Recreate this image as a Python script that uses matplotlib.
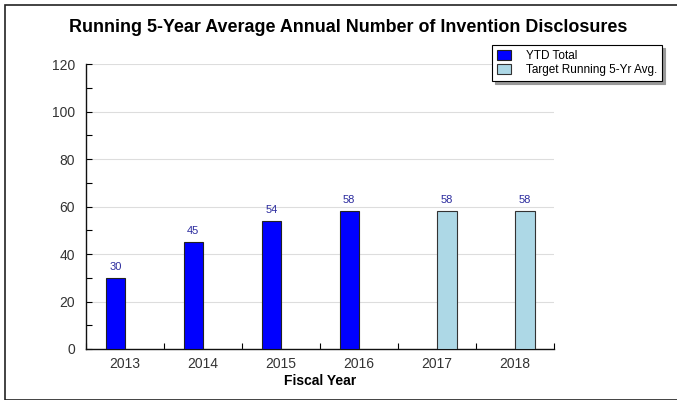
import numpy as np
import matplotlib
matplotlib.use("Agg")
import matplotlib.pyplot as plt
from matplotlib.patches import Rectangle
from matplotlib.ticker import MultipleLocator

plt.rcParams['font.family'] = ['Liberation Sans', 'DejaVu Sans']

years = ['2013', '2014', '2015', '2016', '2017', '2018']
ytd_total = [30, 45, 54, 58, None, None]
target_avg = [None, None, None, None, 58, 58]

fig = plt.figure(figsize=(6.77, 4.0), dpi=100)
ax = fig.add_axes([86 / 677, 1 - 349 / 400, (554 - 86) / 677, (349 - 64) / 400])

x = np.arange(len(years))
w = 0.25
lab_color = '#2b2b9e'

ytd_x = [xi - w / 2 for xi, v in zip(x, ytd_total) if v is not None]
ytd_v = [v for v in ytd_total if v is not None]
tgt_x = [xi + w / 2 for xi, v in zip(x, target_avg) if v is not None]
tgt_v = [v for v in target_avg if v is not None]

b1 = ax.bar(ytd_x, ytd_v, w, color='#0000ff', edgecolor='#222222', linewidth=0.8,
            label='YTD Total', zorder=3)
b2 = ax.bar(tgt_x, tgt_v, w, color='#add8e6', edgecolor='#333333', linewidth=0.8,
            label='Target Running 5-Yr Avg.', zorder=3)

for bars in (b1, b2):
    for r in bars:
        ax.text(r.get_x() + r.get_width() / 2, r.get_height() + 2.5, f'{int(r.get_height())}',
                ha='center', va='bottom', fontsize=8, color=lab_color)

ax.set_xlim(-0.5, len(years) - 0.5)
ax.set_ylim(0, 120)
ax.yaxis.set_major_locator(MultipleLocator(20))
ax.yaxis.set_minor_locator(MultipleLocator(10))
ax.set_xticks(x)
ax.set_xticklabels(years)
ax.set_xticks(np.arange(-0.5, len(years)), minor=True)
ax.tick_params(axis='x', which='major', length=0, labelsize=10, pad=6, colors='#333333')
ax.tick_params(axis='x', which='minor', direction='in', length=4, width=0.8)
ax.tick_params(axis='y', which='both', direction='in', length=4, width=0.8, labelsize=10,
               labelcolor='#333333', pad=8)
ax.grid(axis='y', which='major', color='#dddddd', linewidth=0.8, zorder=0)
for s in ('top', 'right'):
    ax.spines[s].set_visible(False)
for s in ('left', 'bottom'):
    ax.spines[s].set_linewidth(1.0)
    ax.spines[s].set_color('#111111')

ax.set_xlabel('Fiscal Year', fontsize=10, fontweight='bold', labelpad=2)
fig.text(348 / 677, 1 - 27 / 400, 'Running 5-Year Average Annual Number of Invention Disclosures',
         ha='center', va='center', fontsize=12.9, fontweight='bold')

leg = ax.legend(loc='upper left', bbox_to_anchor=(492 / 677, 1 - 45 / 400),
                bbox_transform=fig.transFigure, fontsize=8.5, frameon=True, fancybox=False,
                shadow={'color': '#999999', 'alpha': 1.0}, borderpad=0.4, handlelength=1.2,
                handleheight=1.0, handletextpad=1.3, labelspacing=0.15, borderaxespad=0)
leg.get_frame().set_edgecolor('#000000')
leg.get_frame().set_linewidth(0.8)

fig.patches.append(Rectangle((5 / 677, 0.5 / 400), 1.2, 394.5 / 400, transform=fig.transFigure,
                             fill=False, edgecolor='#222222', linewidth=1.2))

fig.savefig('out.png', dpi=100)
